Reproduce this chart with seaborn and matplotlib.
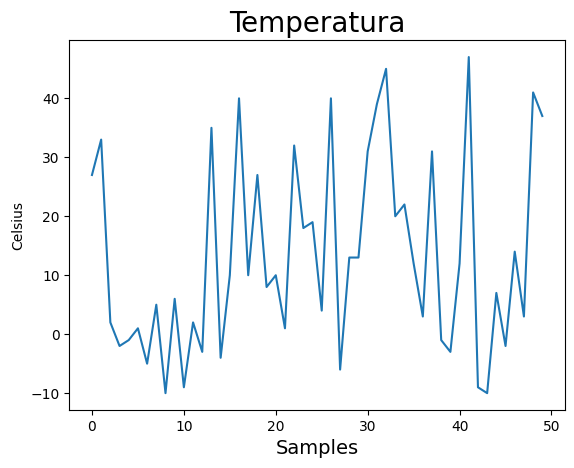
import numpy as np
import pandas as pd
import matplotlib
matplotlib.use("Agg")
import matplotlib.pyplot as plt
import seaborn as sns

samples = list(range(50))
celsius = [27, 33, 2, -2, -1, 1, -5, 5, -10, 6,
           -9, 2, -3, 35, -4, 10, 40, 10, 27, 8,
           10, 1, 32, 18, 19, 4, 40, -6, 13, 13,
           31, 39, 45, 20, 22, 12, 3, 31, -1, -3,
           12, 47, -9, -10, 7, -2, 14, 3, 41, 37]

df = pd.DataFrame({"Samples": samples, "Celsius": celsius})

fig = plt.figure(figsize=(5.74, 4.68), dpi=100)
fig.subplots_adjust(left=0.121, right=0.984, top=0.914, bottom=0.124)
ax = fig.gca()
sns.lineplot(x="Samples", y="Celsius", data=df, ax=ax, color="#1f77b4", lw=1.5)
ax.set_title("Temperatura", fontsize=20)
ax.set_xlabel("Samples", fontsize=14)
ax.set_ylabel("Celsius")
ax.set_xticks([0, 10, 20, 30, 40, 50])
plt.savefig("out.png", dpi=100)
